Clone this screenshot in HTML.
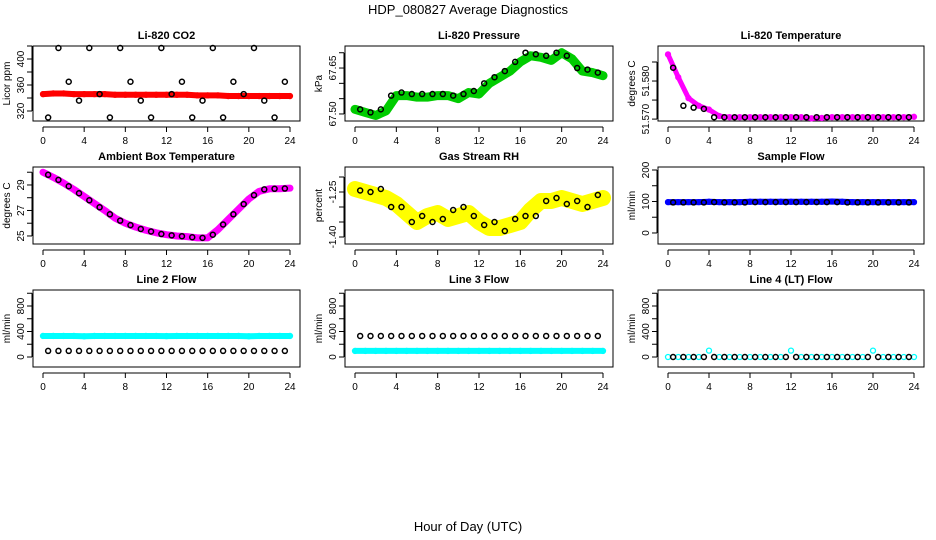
<!DOCTYPE html>
<html><head><meta charset="utf-8"><style>
html,body{margin:0;padding:0;background:#fff;}
svg{display:block;font-family:"Liberation Sans",sans-serif;}
</style></head><body>
<svg id="chart" width="936" height="540" viewBox="0 0 936 540" xmlns="http://www.w3.org/2000/svg">
<text x="468" y="14" text-anchor="middle" font-size="13">HDP_080827  Average Diagnostics</text>
<text x="468" y="531" text-anchor="middle" font-size="13">Hour of Day (UTC)</text>
</svg>
<script>
const hoursColor = [0,1,2,3,4,5,6,7,8,9,10,11,12,13,14,15,16,17,18,19,20,21,22,23,24];
const hoursBlack = [0.5,1.5,2.5,3.5,4.5,5.5,6.5,7.5,8.5,9.5,10.5,11.5,12.5,13.5,14.5,15.5,16.5,17.5,18.5,19.5,20.5,21.5,22.5,23.5];
const xTicks = [0,4,8,12,16,20,24];

const co2Red = [346,347,347,346,346,346,346,345,345,345,345,345,345,345,345,344,344,344,343,343,343,343,343,343,343];
const co2Black = [310,417,365,336,417,346,310,417,365,336,310,417,346,365,310,336,417,310,365,346,417,336,310,365];
const co2TicksY = [320,340,360,380,400,420];
const co2Labels = ["320","","360","","400",""];

const presGreen = [67.515,67.505,67.495,67.51,67.56,67.56,67.555,67.555,67.56,67.56,67.55,67.57,67.565,67.60,67.62,67.64,67.67,67.69,67.685,67.675,67.70,67.68,67.64,67.635,67.625];
const presBlack = [67.515,67.505,67.515,67.56,67.57,67.565,67.565,67.565,67.565,67.56,67.565,67.575,67.60,67.62,67.64,67.67,67.70,67.695,67.69,67.70,67.69,67.65,67.645,67.635];
const presTicksY = [67.50,67.55,67.60,67.65,67.70];
const presLabels = ["67.50","","","67.65",""];

const tempMag = [51.587,51.581,51.5755,51.5735,51.5725,51.5708,51.5705,51.5705,51.5705,51.5705,51.5705,51.5705,51.5705,51.5705,51.5702,51.5703,51.5705,51.5705,51.5705,51.5705,51.5705,51.5705,51.5705,51.5705,51.5706];
const tempBlack = [51.5835,51.5735,51.5730,51.5727,51.5705,51.5705,51.5705,51.5705,51.5705,51.5705,51.5705,51.5705,51.5705,51.5705,51.5705,51.5705,51.5705,51.5705,51.5705,51.5705,51.5705,51.5705,51.5705,51.5705];
const tempTicksY = [51.570,51.575,51.580,51.585];
const tempLabels = ["51.570","","51.580",""];

const ambMag = [30.0,29.6,29.15,28.65,28.1,27.55,27.0,26.4,26.0,25.7,25.45,25.25,25.1,25.0,24.95,24.85,24.85,25.5,26.3,27.1,27.9,28.5,28.7,28.7,28.75];
const ambBlack = [29.8,29.4,28.9,28.35,27.8,27.25,26.7,26.2,25.85,25.55,25.35,25.15,25.05,24.98,24.9,24.85,25.1,25.9,26.7,27.5,28.2,28.65,28.7,28.72];
const ambTicksY = [25,26,27,28,29,30];
const ambLabels = ["25","","27","","29",""];

const rhYellow = [-1.24,-1.25,-1.26,-1.27,-1.29,-1.32,-1.35,-1.33,-1.32,-1.34,-1.33,-1.32,-1.35,-1.37,-1.37,-1.36,-1.35,-1.31,-1.28,-1.28,-1.27,-1.28,-1.29,-1.28,-1.27];
const rhBlack = [-1.245,-1.25,-1.24,-1.30,-1.30,-1.35,-1.33,-1.35,-1.34,-1.31,-1.30,-1.33,-1.36,-1.35,-1.38,-1.34,-1.33,-1.33,-1.28,-1.27,-1.29,-1.28,-1.30,-1.26];
const rhTicksY = [-1.40,-1.35,-1.30,-1.25,-1.20];
const rhLabels = ["-1.40","","","-1.25",""];

const sfBlue = [98,98,98,98,99,98,98,98,99,99,99,99,99,99,99,99,100,99,98,98,98,98,98,98,98];
const sfBlack = [97,97,97,97,98,97,97,97,98,98,98,98,98,98,98,98,98,97,97,97,97,97,97,97];
const flowTicksSF = [0,50,100,150,200];
const flowLabelsSF = ["0","","100","","200"];

const l2Cyan = [330,330,330,330,325,330,330,330,330,330,330,330,328,330,330,330,330,330,330,330,325,330,330,330,330];
const l2Black = [95,95,95,95,95,95,95,95,95,95,95,95,95,95,95,95,95,95,95,95,95,95,95,95];
const l3Cyan = [95,95,95,95,95,95,95,95,95,95,95,95,95,95,95,95,95,95,95,95,95,95,95,95,95];
const l3Black = [330,330,330,330,330,330,330,330,330,330,330,330,330,330,330,330,330,330,330,330,330,330,330,330];
const l4Cyan = [0,0,0,0,100,0,0,0,0,0,0,0,100,0,0,0,0,0,0,0,100,0,0,0,0];
const l4Black = [0,0,0,0,0,0,0,0,0,0,0,0,0,0,0,0,0,0,0,0,0,0,0,0];
const flowTicks = [0,200,400,600,800,1000];
const flowLabels = ["0","","400","","800",""];

const NS = "http://www.w3.org/2000/svg";
const svg = document.getElementById('chart');
function mk(tag, attrs, parent){
  const e = document.createElementNS(NS, tag);
  for (const k in attrs) e.setAttribute(k, attrs[k]);
  (parent||svg).appendChild(e);
  return e;
}
const cols = [{x0:33,x1:300,d0:43,d1:290},{x0:345,x1:613,d0:355,d1:603},{x0:658,x1:924,d0:668,d1:914}];
const rows = [{y0:46,y1:121},{y0:167,y1:244},{y0:290,y1:367}];

function panel(opt){
  const c = cols[opt.col], r = rows[opt.row];
  const g = mk('g', {});
  
  
  const xs = h => c.d0 + (c.d1 - c.d0) * h / 24;
  const ys = v => r.y1 - (v - opt.ymin) / (opt.ymax - opt.ymin) * (r.y1 - r.y0);
  const t = mk('text', {x:(c.x0+c.x1)/2, y:r.y0-7, 'text-anchor':'middle', 'font-size':11, 'font-weight':'bold'}, g);
  t.textContent = opt.title;
  
  
  const yl = mk('text', {transform:`translate(${c.x0-23},${(r.y0+r.y1)/2}) rotate(-90)`, 'text-anchor':'middle', 'font-size':10}, g);
  yl.textContent = opt.ylabel;
  
  
  // x axis
  const xa = mk('g', {stroke:'#000','stroke-width':1}, g);
  
  
  mk('line', {x1:xs(0), x2:xs(24), y1:r.y1+6, y2:r.y1+6}, xa);
  xTicks.forEach(h => {
    mk('line', {x1:xs(h), x2:xs(h), y1:r.y1+6, y2:r.y1+11}, xa);
    const tl = mk('text', {x:xs(h), y:r.y1+23, 'text-anchor':'middle', 'font-size':10, stroke:'none'}, xa);
    tl.textContent = h;
    
    
  });
  // y axis
  const ya = mk('g', {stroke:'#000','stroke-width':1}, g);
  
  
  mk('line', {x1:c.x0-1, x2:c.x0-1, y1:ys(opt.ticks[0]), y2:ys(opt.ticks[opt.ticks.length-1])}, ya);
  opt.ticks.forEach((v,i) => {
    mk('line', {x1:c.x0-6, x2:c.x0-1, y1:ys(v), y2:ys(v)}, ya);
    if (opt.labels[i]) {
      const tl = mk('text', {transform:`translate(${c.x0-9},${ys(v)}) rotate(-90)`, 'text-anchor':'middle', 'font-size':10, stroke:'none'}, ya);
      tl.textContent = opt.labels[i];
      
      
    }
  });
  // box
  const bx = mk('rect', {x:c.x0, y:r.y0, width:c.x1-c.x0, height:r.y1-r.y0, fill:'none', stroke:'#000'}, g);
  
  
  // colored series
  const cs = mk('g', {}, g);
  
  
  const pts = hoursColor.map((h,i) => xs(h)+','+ys(opt.color[i])).join(' ');
  if (opt.band) {
    const pl = mk('polyline', {points:pts, fill:'none', stroke:opt.ccol, 'stroke-width':opt.band, 'stroke-linejoin':'round', 'stroke-linecap':'round'}, cs);
    
    
  }
  hoursColor.forEach((h,i) => {
    const p = mk('circle', {cx:xs(h), cy:ys(opt.color[i]), r:2.5, fill:'none', stroke:opt.ccol, 'stroke-width':1.3}, cs);
    
    
  });
  const bs = mk('g', {}, g);
  
  
  hoursBlack.forEach((h,i) => {
    const p = mk('circle', {cx:xs(h), cy:ys(opt.black[i]), r:2.5, fill:'none', stroke:'#000', 'stroke-width':1.5}, bs);
    
    
  });
}

panel({name:'co2',title:'Li-820 CO2',ylabel:'Licor ppm',col:0,row:0,ymin:304.6,ymax:420,ticks:co2TicksY,labels:co2Labels,color:co2Red,black:co2Black,ccol:'#ff0000',band:6});
panel({name:'pressure',title:'Li-820 Pressure',ylabel:'kPa',col:1,row:0,ymin:67.477,ymax:67.722,ticks:presTicksY,labels:presLabels,color:presGreen,black:presBlack,ccol:'#00cc00',band:9});
panel({name:'licor-temp',title:'Li-820 Temperature',ylabel:'degrees C',col:2,row:0,ymin:51.5695,ymax:51.5892,ticks:tempTicksY,labels:tempLabels,color:tempMag,black:tempBlack,ccol:'#ff00ff',band:5});
panel({name:'ambient-temp',title:'Ambient Box Temperature',ylabel:'degrees C',col:0,row:1,ymin:24.37,ymax:30.41,ticks:ambTicksY,labels:ambLabels,color:ambMag,black:ambBlack,ccol:'#ff00ff',band:7});
panel({name:'rh',title:'Gas Stream RH',ylabel:'percent',col:1,row:1,ymin:-1.4233,ymax:-1.1667,ticks:rhTicksY,labels:rhLabels,color:rhYellow,black:rhBlack,ccol:'#ffff00',band:16});
panel({name:'sample-flow',title:'Sample Flow',ylabel:'ml/min',col:2,row:1,ymin:-35,ymax:209.5,ticks:flowTicksSF,labels:flowLabelsSF,color:sfBlue,black:sfBlack,ccol:'#0000ff',band:6});
panel({name:'line2-flow',title:'Line 2 Flow',ylabel:'ml/min',col:0,row:2,ymin:-157,ymax:1051,ticks:flowTicks,labels:flowLabels,color:l2Cyan,black:l2Black,ccol:'#00ffff',band:6});
panel({name:'line3-flow',title:'Line 3 Flow',ylabel:'ml/min',col:1,row:2,ymin:-157,ymax:1051,ticks:flowTicks,labels:flowLabels,color:l3Cyan,black:l3Black,ccol:'#00ffff',band:6});
panel({name:'line4-flow',title:'Line 4 (LT) Flow',ylabel:'ml/min',col:2,row:2,ymin:-157,ymax:1051,ticks:flowTicks,labels:flowLabels,color:l4Cyan,black:l4Black,ccol:'#00ffff',band:0});
</script>
</body></html>
